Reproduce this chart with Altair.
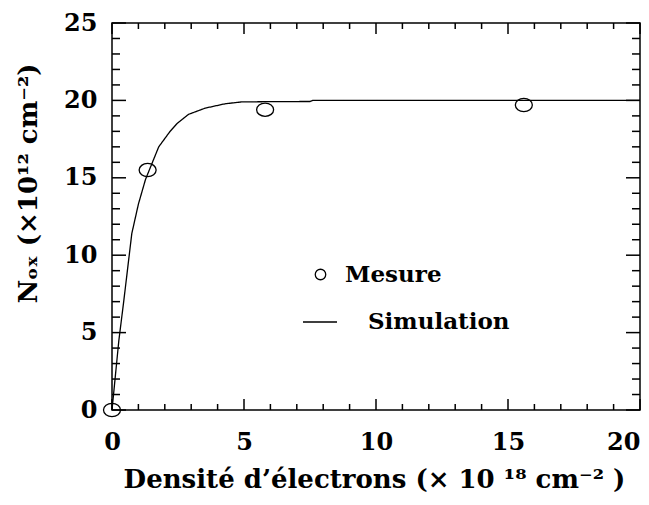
import altair as alt
import pandas as pd

# ---- data ----
mesure_x = [0.0, 1.35, 5.8, 15.6]
mesure_y = [0.0, 15.5, 19.4, 19.7]

sim_x = [0.0, 0.11, 0.26, 0.45, 0.75, 1.0, 1.27, 1.77, 2.2, 2.46, 2.9, 3.53, 4.28, 4.9, 6.0, 7.5, 7.6, 20.0]
sim_y = [0.0, 1.9, 4.5, 7.1, 11.4, 13.3, 14.9, 17.0, 18.0, 18.5, 19.1, 19.5, 19.78, 19.9, 19.92, 19.93, 20.0, 20.0]

x_major = [0, 5, 10, 15, 20]
x_minor = [v for v in range(0, 21) if v % 5 != 0]
y_major = [0, 5, 10, 15, 20, 25]
y_minor = [v for v in range(0, 26) if v % 5 != 0]

x_title = "Densité d’électrons (× 10 ¹⁸ cm⁻² )"
y_title = "Nₒₓ (×10¹² cm⁻²)"
label_mesure = "Mesure"
label_sim = "Simulation"

# ---- layout / style ----
W, H = 528, 387
XMIN, XMAX = 0, 20
YMIN, YMAX = 0, 25
FONT = "DejaVu Serif"

xs = alt.Scale(domain=[XMIN, XMAX], nice=False, zero=False)
ys = alt.Scale(domain=[YMIN, YMAX], nice=False, zero=False)

df_m = pd.DataFrame({"x": mesure_x, "y": mesure_y, "serie": label_mesure})
df_s = pd.DataFrame({"x": sim_x, "y": sim_y, "serie": label_sim})

# tick marks (inward, on all four sides), lengths in pixels converted to data units
def vticks(vals, px):
    L = px / H * (YMAX - YMIN)
    rows = []
    for v in vals:
        rows.append({"x": v, "y": YMIN, "y2": YMIN + L})
        rows.append({"x": v, "y": YMAX, "y2": YMAX - L})
    return rows

def hticks(vals, px):
    L = px / W * (XMAX - XMIN)
    rows = []
    for v in vals:
        rows.append({"y": v, "x": XMIN, "x2": XMIN + L})
        rows.append({"y": v, "x": XMAX, "x2": XMAX - L})
    return rows

df_vt = pd.DataFrame(vticks(x_major, 11) + vticks(x_minor, 6))
df_ht = pd.DataFrame(hticks(y_major, 14) + hticks(y_minor, 8))

x_axis = alt.Axis(
    values=x_major, ticks=False, grid=False, domain=False,
    labelFont=FONT, labelFontSize=24, labelFontWeight="bold", labelColor="black",
    labelPadding=20, labelBaseline="top",
    labelAlign=alt.ExprRef(expr="datum.value == 20 ? 'right' : 'center'"),
    title=x_title, titleFont=FONT, titleFontSize=26, titleFontWeight="bold", titleColor="black",
    titleX=262, titleY=77, titleBaseline="alphabetic", titleAlign="center",
)
y_axis = alt.Axis(
    values=y_major, ticks=False, grid=False, domain=False,
    labelFont=FONT, labelFontSize=24, labelFontWeight="bold", labelColor="black",
    labelPadding=15,
    title=y_title, titleFont=FONT, titleFontSize=26, titleFontWeight="bold", titleColor="black",
    titleX=-76, titleY=160, titleAngle=270, titleBaseline="alphabetic", titleAlign="center",
)

ellipse = "M-1,0A1,0.78,0,1,0,1,0A1,0.78,0,1,0,-1,0Z"

vt = alt.Chart(df_vt).mark_rule(color="black", strokeWidth=1.5).encode(
    x=alt.X("x:Q", scale=xs, axis=x_axis),
    y=alt.Y("y:Q", scale=ys, axis=y_axis),
    y2="y2:Q",
)
ht = alt.Chart(df_ht).mark_rule(color="black", strokeWidth=1.5).encode(
    x=alt.X("x:Q", scale=xs),
    x2="x2:Q",
    y=alt.Y("y:Q", scale=ys),
)

line = alt.Chart(df_s).mark_line(strokeWidth=1.3, color="black").encode(
    x=alt.X("x:Q", scale=xs),
    y=alt.Y("y:Q", scale=ys),
    strokeDash=alt.StrokeDash(
        "serie:N",
        scale=alt.Scale(domain=[label_sim], range=[[1, 0]]),
        legend=alt.Legend(
            title=None, orient="none", legendX=190, legendY=281, padding=0,
            symbolSize=1156, symbolStrokeColor="black", symbolStrokeWidth=1.3,
            symbolType="stroke", symbolOffset=0,
            labelFont=FONT, labelFontSize=23, labelFontWeight="bold", labelColor="black",
            labelOffset=30,
        ),
    ),
)

points = alt.Chart(df_m).mark_point(
    shape=ellipse, size=289, filled=False, strokeWidth=1.3, opacity=1
).encode(
    x=alt.X("x:Q", scale=xs),
    y=alt.Y("y:Q", scale=ys),
    color=alt.Color(
        "serie:N",
        scale=alt.Scale(domain=[label_mesure], range=["black"]),
        legend=alt.Legend(
            title=None, orient="none", legendX=197, legendY=240, padding=0,
            symbolType="circle", symbolSize=110, symbolStrokeWidth=1.3, symbolOffset=0,
            labelFont=FONT, labelFontSize=23, labelFontWeight="bold", labelColor="black",
            labelOffset=13,
        ),
    ),
)

chart = alt.layer(vt, ht, line, points).properties(
    width=W, height=H,
    autosize=alt.AutoSizeParams(type="none"),
    padding={"left": 104, "top": 15, "right": 1, "bottom": 82},
    background="white",
).configure_view(stroke="black", strokeWidth=1.5)

chart.save("out.html", embed_options={"renderer": "svg", "actions": False})
